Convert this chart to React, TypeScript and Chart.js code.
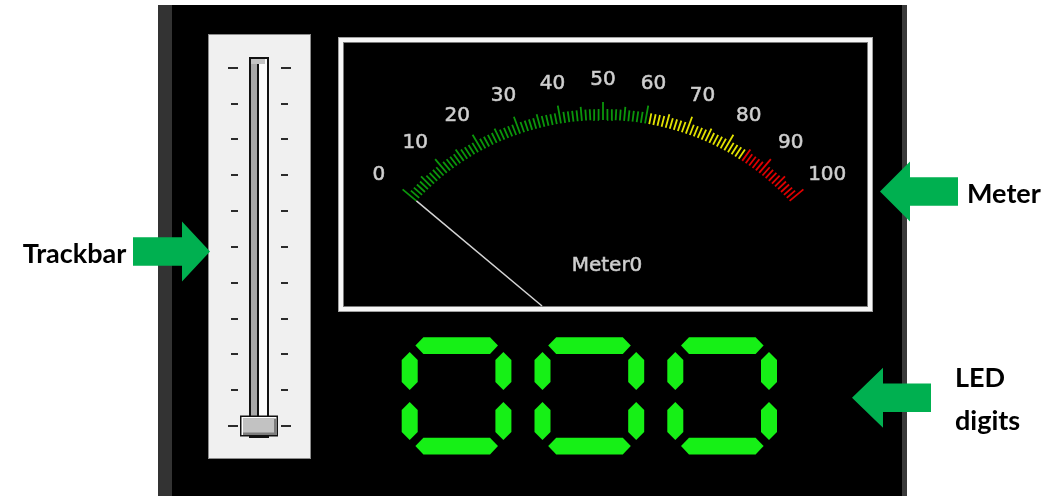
import React, { useEffect, useRef } from "react";
import { Chart, registerables } from "chart.js";

Chart.register(...registerables);

// ---------------- data ----------------
const meterMin = 0;
const meterMax = 100;
const meterTickStep = 1;
const meterMediumEvery = 5;
const meterMajorEvery = 10;
const meterLabelValues = [0, 10, 20, 30, 40, 50, 60, 70, 80, 90, 100];
const meterLabelTexts = ["0", "10", "20", "30", "40", "50", "60", "70", "80", "90", "100"];
const meterZoneLimits = [60, 84, 100]; // green .. 60, yellow .. 84, red .. 100
const meterValue = 0;
const meterCaption = "Meter0";

const trackMin = 0;
const trackMax = 100;
const trackTickValues = [0, 10, 20, 30, 40, 50, 60, 70, 80, 90, 100];
const trackValue = 0;

const ledValue = 0;
const ledDigitCount = 3;

const calloutTexts = ["Trackbar", "Meter", "LED", "digits"];

// ---------------- layout & styles ----------------
const W = 1058;
const H = 496;
const ZONE_COLORS = ["#0b960b", "#e2e200", "#de0000"];
const METER = {
  cx: 603, cy: 357, rx: 248, ry: 237, lrx: 298, lry: 279, half: 48.8,
  major: 18, medium: 14, minor: 11,
  frame: { x: 338, y: 37, w: 535, h: 275 },
  inner: { x0: 344, y0: 43, x1: 867, y1: 306 },
  captionX: 607, captionY: 266,
};
const TRACK = { x: 208, y: 34, w: 103, h: 425, top: 67.7, bottom: 426 };
const LED = { x0: 401.7, y0: 337, pitch: 132.8, color: "#16f016" };
const ARROW_COLOR = "#00b050";
const LABEL_FONT = "700 27px Lato, 'Noto Sans', sans-serif";
const METER_FONT = "20px 'DejaVu Sans', sans-serif";

// ---------------- geometry helpers ----------------
function meterAngle(v: number) {
  const deg = -METER.half + ((v - meterMin) / (meterMax - meterMin)) * 2 * METER.half;
  return (deg * Math.PI) / 180;
}
function meterPoint(v: number, rx: number, ry: number) {
  const a = meterAngle(v);
  return { x: METER.cx + rx * Math.sin(a), y: METER.cy - ry * Math.cos(a) };
}
function tickLength(v: number) {
  if (v % meterMajorEvery === 0) return METER.major;
  if (v % meterMediumEvery === 0) return METER.medium;
  return METER.minor;
}
function tickSegment(v: number) {
  const p = meterPoint(v, METER.rx, METER.ry);
  const dx = p.x - METER.cx;
  const dy = p.y - METER.cy;
  const d = Math.hypot(dx, dy);
  const len = tickLength(v);
  return [p, { x: p.x + (dx / d) * len, y: p.y + (dy / d) * len }];
}
function zoneOf(v: number) {
  for (let i = 0; i < meterZoneLimits.length; i++) if (v <= meterZoneLimits[i]) return i;
  return meterZoneLimits.length - 1;
}

const meterTickValues: number[] = [];
for (let v = meterMin; v <= meterMax; v += meterTickStep) meterTickValues.push(v);

const zoneData: { x: number | null; y: number | null }[][] = meterZoneLimits.map(() => []);
meterTickValues.forEach((v) => {
  const [a, b] = tickSegment(v);
  const arr = zoneData[zoneOf(v)];
  arr.push(a, b, { x: null, y: null });
});

function needleData() {
  const tip = meterPoint(meterValue, METER.rx, METER.ry);
  const t = (METER.inner.y1 - METER.cy) / (tip.y - METER.cy);
  const start = { x: METER.cx + t * (tip.x - METER.cx), y: METER.inner.y1 };
  return [start, tip];
}

function trackY(v: number) {
  return TRACK.top + ((trackMax - v) / (trackMax - trackMin)) * (TRACK.bottom - TRACK.top);
}

const SEGMENTS_FOR: Record<string, string> = {
  "0": "abcdef", "1": "bc", "2": "abged", "3": "abgcd", "4": "fgbc",
  "5": "afgcd", "6": "afgedc", "7": "abc", "8": "abcdefg", "9": "abcdfg",
};
function hSeg(top: number) {
  const h = 16.6, m = top + h / 2;
  return [[13.7, m], [21.7, top], [88.3, top], [96.3, m], [88.3, top + h], [21.7, top + h]];
}
function vSeg(left: number, y1: number, y2: number) {
  const w = 16, c = left + w / 2;
  return [[c, y1], [left + w, y1 + 8], [left + w, y2 - 8], [c, y2], [left, y2 - 8], [left, y1 + 8]];
}
const SEG_SHAPES: Record<string, number[][]> = {
  a: hSeg(0.3),
  g: hSeg(50.5),
  d: hSeg(100.8),
  f: vSeg(0, 15, 53),
  e: vSeg(0, 65, 103),
  b: vSeg(93.7, 15, 53),
  c: vSeg(93.7, 65, 103),
};

function drawArrow(ctx: CanvasRenderingContext2D, tipX: number, tipY: number, dir: number,
  headLen: number, headHalf: number, shaftLen: number, shaftHalf: number) {
  const bx = tipX - dir * headLen;
  const ex = bx - dir * shaftLen;
  ctx.beginPath();
  ctx.moveTo(tipX, tipY);
  ctx.lineTo(bx, tipY - headHalf);
  ctx.lineTo(bx, tipY - shaftHalf);
  ctx.lineTo(ex, tipY - shaftHalf);
  ctx.lineTo(ex, tipY + shaftHalf);
  ctx.lineTo(bx, tipY + shaftHalf);
  ctx.lineTo(bx, tipY + headHalf);
  ctx.closePath();
  ctx.fillStyle = ARROW_COLOR;
  ctx.fill();
}

const widgetsPlugin = {
  id: "widgets",
  beforeDraw(chart: any) {
    const ctx: CanvasRenderingContext2D = chart.ctx;
    ctx.save();
    // page + dark panel
    ctx.fillStyle = "#ffffff";
    ctx.fillRect(0, 0, W, H);
    ctx.fillStyle = "#000000";
    ctx.fillRect(158, 5, 749, H - 5);
    ctx.fillStyle = "#333333";
    ctx.fillRect(158, 5, 14, H - 5);
    ctx.fillStyle = "#3a3a3a";
    ctx.fillRect(902, 5, 5, H - 5);

    // trackbar
    ctx.fillStyle = "#8c8c8c";
    ctx.fillRect(TRACK.x, TRACK.y, TRACK.w, TRACK.h);
    ctx.fillStyle = "#f0f0f0";
    ctx.fillRect(TRACK.x + 1, TRACK.y + 1, TRACK.w - 2, TRACK.h - 2);
    ctx.fillStyle = "#2b2b2b";
    trackTickValues.forEach((v) => {
      const y = Math.round(trackY(v));
      const end = v === trackMin || v === trackMax;
      ctx.fillRect(end ? 228 : 231, y - 1, end ? 10 : 7, 2);
      ctx.fillRect(281, y - 1, end ? 10 : 7, 2);
    });
    ctx.fillStyle = "#111111";
    ctx.fillRect(249, 57, 20, 381);
    ctx.fillStyle = "#fbfbfb";
    ctx.fillRect(251, 59, 16, 377);
    ctx.fillStyle = "#a9a9a9";
    ctx.fillRect(251, 59, 6, 377);
    ctx.fillStyle = "#c4c4c4";
    ctx.fillRect(251, 59, 14, 5);
    ctx.fillStyle = "#111111";
    ctx.fillRect(257, 64, 2, 372);
    const ty = trackY(trackValue);
    const tx = 240, tw = 38, th = 21, tTop = ty - th / 2;
    ctx.fillStyle = "#111111";
    ctx.fillRect(tx, tTop, tw, th);
    ctx.fillStyle = "#ffffff";
    ctx.fillRect(tx + 1.5, tTop + 1.5, tw - 3, th - 3);
    ctx.fillStyle = "#7c7c7c";
    ctx.fillRect(tx + 3, tTop + 3, tw - 4.5, th - 4.5);
    ctx.fillStyle = "#c2c2c2";
    ctx.fillRect(tx + 3, tTop + 3, tw - 7, th - 7);

    // meter frame
    const f = METER.frame;
    ctx.fillStyle = "#a0a0a0";
    ctx.fillRect(f.x, f.y, f.w, f.h);
    ctx.fillStyle = "#f6f6f6";
    ctx.fillRect(f.x + 1, f.y + 1, f.w - 2, f.h - 2);
    ctx.fillStyle = "#7a7a7a";
    ctx.fillRect(f.x + 5, f.y + 5, f.w - 10, f.h - 10);
    ctx.fillStyle = "#000000";
    ctx.fillRect(METER.inner.x0, METER.inner.y0, METER.inner.x1 - METER.inner.x0, METER.inner.y1 - METER.inner.y0);

    // LED digits
    const digits = String(ledValue).padStart(ledDigitCount, "0");
    ctx.fillStyle = LED.color;
    digits.split("").forEach((ch, i) => {
      const ox = LED.x0 + i * LED.pitch;
      const oy = LED.y0;
      (SEGMENTS_FOR[ch] || "").split("").forEach((s) => {
        const pts = SEG_SHAPES[s];
        ctx.beginPath();
        pts.forEach(([px, py], k) => (k ? ctx.lineTo(ox + px, oy + py) : ctx.moveTo(ox + px, oy + py)));
        ctx.closePath();
        ctx.fill();
      });
    });

    // callouts
    drawArrow(ctx, 210, 251.5, 1, 28, 30, 49, 14.2);
    drawArrow(ctx, 880, 191.5, -1, 30, 30, 48, 14.2);
    drawArrow(ctx, 852, 397.7, -1, 31, 30, 48, 14.3);
    ctx.fillStyle = "#000000";
    ctx.font = LABEL_FONT;
    ctx.textAlign = "left";
    ctx.textBaseline = "alphabetic";
    ctx.fillText(calloutTexts[0], 22.7, 263.3);
    ctx.fillText(calloutTexts[1], 967, 203.3);
    ctx.fillText(calloutTexts[2], 955, 387.3);
    ctx.fillText(calloutTexts[3], 955, 429.5);
    ctx.restore();
  },
  afterDatasetsDraw(chart: any) {
    const ctx: CanvasRenderingContext2D = chart.ctx;
    ctx.save();
    ctx.font = METER_FONT;
    ctx.fillStyle = "#d2d2d2";
    ctx.strokeStyle = "#c4c4c4";
    ctx.lineWidth = 0.6;
    ctx.textAlign = "center";
    ctx.textBaseline = "middle";
    meterLabelValues.forEach((v, i) => {
      const p = meterPoint(v, METER.lrx, METER.lry);
      ctx.fillText(meterLabelTexts[i], p.x, p.y + 2);
      ctx.strokeText(meterLabelTexts[i], p.x, p.y + 2);
    });
    ctx.fillText(meterCaption, METER.captionX, METER.captionY);
    ctx.strokeText(meterCaption, METER.captionX, METER.captionY);
    ctx.restore();
  },
};

export default function App() {
  const ref = useRef<HTMLCanvasElement>(null);
  useEffect(() => {
    document.body.style.margin = "0";
    document.body.style.background = "#ffffff";
    const datasets: any[] = [
      {
        label: "needle",
        data: needleData(),
        showLine: true,
        borderColor: "#d4d4d4",
        borderWidth: 1.5,
        pointRadius: 0,
      },
      ...zoneData.map((d, i) => ({
        label: "zone" + i,
        data: d,
        showLine: true,
        spanGaps: false,
        borderColor: ZONE_COLORS[i],
        borderWidth: 1.8,
        pointRadius: 0,
      })),
    ];
    const chart = new Chart(ref.current as HTMLCanvasElement, {
      type: "scatter",
      data: { datasets },
      options: {
        animation: false,
        responsive: false,
        maintainAspectRatio: false,
        events: [],
        layout: { padding: 0 },
        scales: {
          x: { type: "linear", min: 0, max: W, display: false },
          y: { type: "linear", min: 0, max: H, reverse: true, display: false },
        },
        plugins: { legend: { display: false }, tooltip: { enabled: false } },
      },
      plugins: [widgetsPlugin],
    } as any);
    let alive = true;
    if ((document as any).fonts && (document as any).fonts.ready) {
      (document as any).fonts.ready.then(() => {
        if (alive) chart.draw();
      });
    }
    return () => {
      alive = false;
      chart.destroy();
    };
  }, []);
  return (
    <div style={{ position: "fixed", left: 0, top: 0, width: W, height: H }}>
      <canvas ref={ref} width={W} height={H} style={{ display: "block", width: W, height: H }} />
    </div>
  );
}
